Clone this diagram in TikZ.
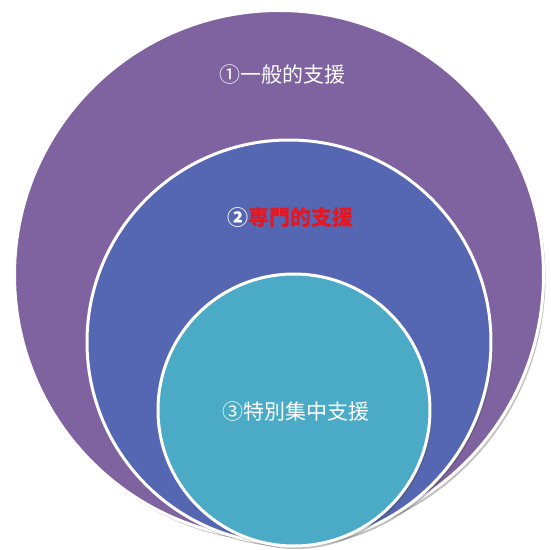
\documentclass[tikz,border=0pt]{standalone}
\usepackage{fontspec}
\setmainfont{Noto Sans CJK JP}
\usetikzlibrary{shadows}
\definecolor{cpurple}{HTML}{7F63A1}
\definecolor{cblue}{HTML}{5566B2}
\definecolor{cteal}{HTML}{4BABC6}
\definecolor{cred}{HTML}{E8141E}
\begin{document}
\begin{tikzpicture}[x=1pt,y=1pt,
  ring/.style={circle, draw=white, line width=3pt, inner sep=0pt,
    drop shadow={shadow xshift=2pt, shadow yshift=-3pt, opacity=0.35, fill=black!70}},
  lbl/.style={font=\fontsize{21}{24}\selectfont, text=white}]
\useasboundingbox (0,0) rectangle (550,550);
\begin{scope}
\clip (0,0) rectangle (550,550);
\node[ring, fill=cpurple, minimum size=529pt] (outer) at (279,275) {};
\node[ring, fill=cblue, minimum size=404pt] (mid) at (289,208) {};
\node[ring, fill=cteal, minimum size=272pt] (inner) at (294,140) {};
\end{scope}
\node[lbl] (t1) at (282,475) {①一般的支援};
\node[lbl] (t2) at (290,332) {\textbf{②}{\color{cred}\textbf{専門的支援}}};
\node[lbl] (t3) at (296,138) {③特別集中支援};
\end{tikzpicture}
\end{document}
